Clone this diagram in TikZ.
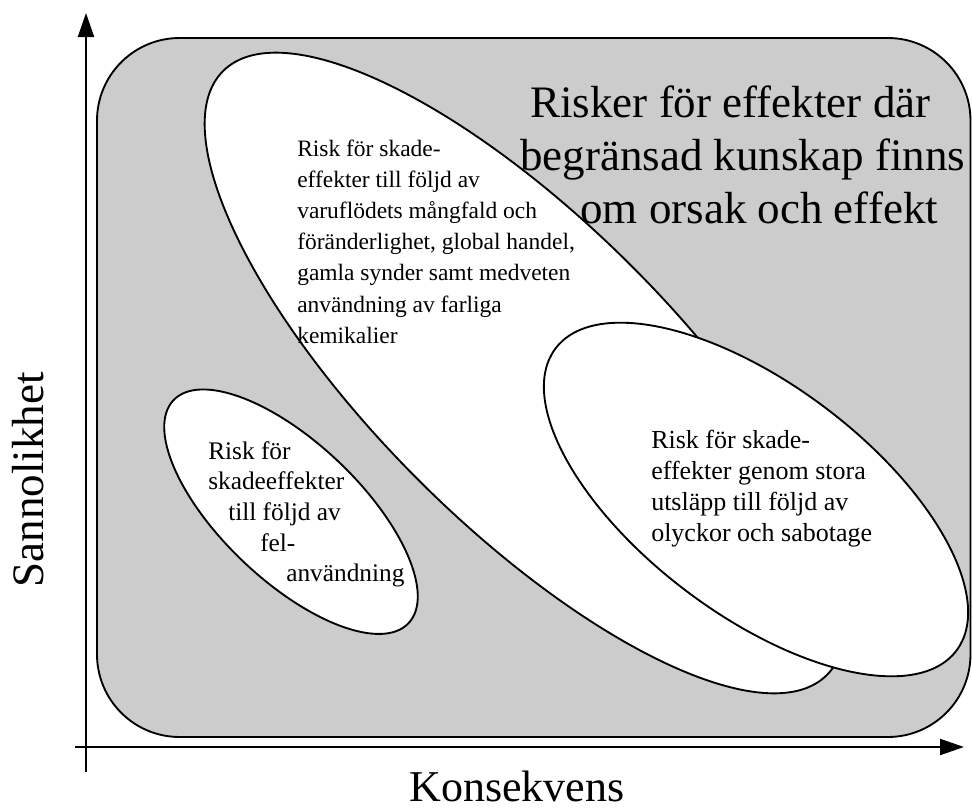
\documentclass[tikz,border=0pt]{standalone}
\usepackage{fontspec}
\setmainfont{Liberation Serif}
\usetikzlibrary{arrows.meta}
\definecolor{bgray}{RGB}{204,204,204}
\newcommand\tline[2]{\hbox{\kern#1pt\relax #2}}
\newcommand\tblock[3]{\vtop{\fontsize{#1}{#2}\selectfont\baselineskip=#2\lineskiplimit=-100pt\lineskip=0pt #3}}
\tikzset{
  outline/.style={draw=black, line width=1.4pt},
  zone/.style={outline, fill=white},
  axis/.style={line width=1.5pt, -{Triangle[length=18pt,width=12pt]}},
  txt/.style={inner sep=0pt, anchor=base west},
  bigtxt/.style={inner sep=0pt, font=\fontsize{33.75}{40}\selectfont},
}
\begin{document}
\begin{tikzpicture}[x=0.75pt, y=-0.75pt]
\useasboundingbox (0,0) rectangle (972,810);
% background zone
\draw[outline, fill=bgray, rounded corners=62pt] (97,38) rectangle (970.5,737);
% ellipses
\draw[zone, rotate around={-45:(525,373)}] (525,373) ellipse [x radius=427, y radius=151];
\draw[zone, rotate around={-43.5:(291,511.7)}] (291,511.7) ellipse [x radius=162, y radius=69];
\draw[zone, rotate around={-37:(756,499.5)}] (756,499.5) ellipse [x radius=251, y radius=115];
% axes
\coordinate (yfrom) at (86,772);
\coordinate (yto) at (86,13);
\coordinate (xfrom) at (75,747);
\coordinate (xto) at (964,747);
\draw[axis] (yfrom) -- (yto);
\draw[axis] (xfrom) -- (xto);
% title
\node[bigtxt, anchor=base west] (t1) at (530,117) {Risker för effekter där};
\node[bigtxt, anchor=base west] (t2) at (520,170) {begränsad kunskap finns};
\node[bigtxt, anchor=base west] (t3) at (580,223) {om orsak och effekt};
% big ellipse text
\node[txt] (bigtext) at (297,156) {\tblock{17.6}{23.4pt}{%
\tline{0}{Risk för skade-}
\tline{0}{effekter till följd av}
\tline{0}{varuflödets mångfald och}
\tline{0}{föränderlighet, global handel,}
\tline{0}{gamla synder samt medveten}
\tline{0}{användning av farliga}
\tline{0}{kemikalier}}};
% small ellipse text
\node[txt] (smalltext) at (208,459) {\tblock{19}{23pt}{%
\tline{0}{Risk för}
\tline{0}{skadeeffekter}
\tline{15}{till följd av}
\tline{39}{fel-}
\tline{58.5}{användning}}};
% right ellipse text
\node[txt] (righttext) at (651,448) {\tblock{19.5}{23.3pt}{%
\tline{0}{Risk för skade-}
\tline{0}{effekter genom stora}
\tline{0}{utsläpp till följd av}
\tline{0}{olyckor och sabotage}}};
% axis labels
\node[bigtxt, rotate=90, anchor=base] (ylab) at (43,480) {Sannolikhet};
\node[inner sep=0pt, anchor=base, text depth=0pt, font=\fontsize{33}{40}\selectfont] (xlab) at (517,801) {Konsekvens};
\end{tikzpicture}
\end{document}
